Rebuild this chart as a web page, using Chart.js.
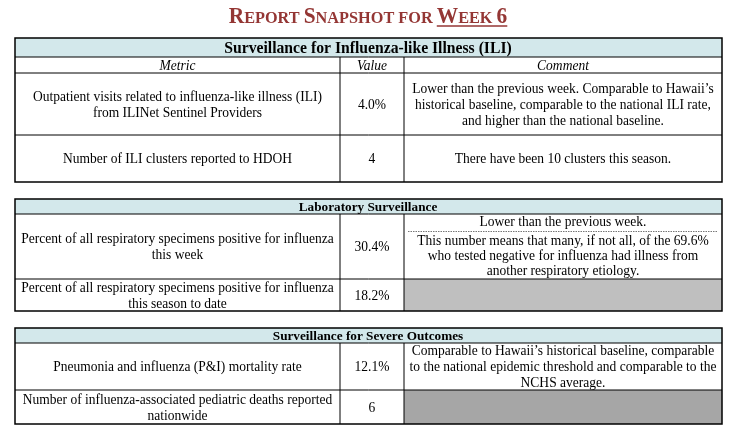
<!DOCTYPE html>
<html>
<head>
<meta charset="utf-8">
<script src="https://cdn.jsdelivr.net/npm/chart.js@4.4.1/dist/chart.umd.min.js"></script>
<style>
html,body{margin:0;padding:0;background:#fff;}
#wrap{width:735px;height:438px;position:relative;}
</style>
</head>
<body>
<div id="wrap"><canvas id="c" width="735" height="438"></canvas></div>
<script>
// ---- data ----
const reportTitle = [["R","big"],["EPORT ","small"],["S","big"],["NAPSHOT ","small"],["FOR ","small"],["W","big","u"],["EEK ","small","u"],["6","big","u"]];
const sectionTitles = ["Surveillance for Influenza-like Illness (ILI)", "Laboratory Surveillance", "Surveillance for Severe Outcomes"];
const columnHeaders = ["Metric", "Value", "Comment"];
const metrics1 = [["Outpatient visits related to influenza-like illness (ILI)", "from ILINet Sentinel Providers"], ["Number of ILI clusters reported to HDOH"]];
const values1 = ["4.0%", "4"];
const comments1 = [["Lower than the previous week. Comparable to Hawaii\u2019s", "historical baseline, comparable to the national ILI rate,", "and higher than the national baseline."], ["There have been 10 clusters this season."]];
const metrics2 = [["Percent of all respiratory specimens positive for influenza", "this week"], ["Percent of all respiratory specimens positive for influenza", "this season to date"]];
const values2 = ["30.4%", "18.2%"];
const comments2 = [[["Lower than the previous week."], ["This number means that many, if not all, of the 69.6%", "who tested negative for influenza had illness from", "another respiratory etiology."]], null];
const metrics3 = [["Pneumonia and influenza (P&I) mortality rate"], ["Number of influenza-associated pediatric deaths reported", "nationwide"]];
const values3 = ["12.1%", "6"];
const comments3 = [["Comparable to Hawaii\u2019s historical baseline, comparable", "to the national epidemic threshold and comparable to the", "NCHS average."], null];

// ---- layout / style (not data) ----
const L = {
  cols: [15, 340, 404, 722],
  t1: [38, 57, 73, 135, 182],
  t2: [199, 214, 279, 311],
  t3: [328, 343, 390, 424],
  band: "#D3E8EB",
  grey2: "#BFBFBF",
  grey3: "#A6A6A6",
  titleColor: "#943634",
  serif: "'Liberation Serif', 'Times New Roman', serif",
  k: 0.965,
  lh: 16
};

const tablePlugin = {
  id: 'tablePlugin',
  afterDraw(chart) {
    const ctx = chart.ctx, X = chart.scales.x, Y = chart.scales.y;
    const px = v => X.getPixelForValue(v), py = v => Y.getPixelForValue(v);
    const F = (sz, w, st) => (st || '') + ' ' + (w || '') + ' ' + sz + 'px ' + L.serif;
    function txt(s, x, y, font, k, color) {
      ctx.save();
      ctx.font = font; ctx.fillStyle = color || '#000';
      ctx.textAlign = 'center'; ctx.textBaseline = 'middle';
      ctx.translate(px(x), py(y)); ctx.scale(k || L.k, 1);
      ctx.fillText(s, 0, 0);
      ctx.restore();
    }
    function lines(arr, cx, cy, font) {
      const n = arr.length;
      arr.forEach((s, i) => txt(s, cx, cy + (i - (n - 1) / 2) * L.lh, font));
    }
    function rect(x0, y0, x1, y1, fill) {
      ctx.fillStyle = fill;
      ctx.fillRect(px(x0), py(y0), px(x1) - px(x0), py(y1) - py(y0));
    }
    function hline(x0, x1, y, w) {
      ctx.save(); ctx.strokeStyle = '#000'; ctx.lineWidth = w || 1;
      ctx.beginPath(); ctx.moveTo(px(x0), py(y)); ctx.lineTo(px(x1), py(y)); ctx.stroke(); ctx.restore();
    }
    function vline(x, y0, y1, w) {
      ctx.save(); ctx.strokeStyle = '#000'; ctx.lineWidth = w || 1;
      ctx.beginPath(); ctx.moveTo(px(x), py(y0)); ctx.lineTo(px(x), py(y1)); ctx.stroke(); ctx.restore();
    }
    const c = L.cols;
    const cc = [(c[0] + c[1]) / 2, (c[1] + c[2]) / 2, (c[2] + c[3]) / 2];
    const body = F(14), ital = F(14, '', 'italic');

    // title (small caps)
    ctx.save();
    const bigF = F(23, 'bold'), smF = F(17.5, 'bold');
    const kt = 0.93;
    let total = 0;
    reportTitle.forEach(seg => { ctx.font = seg[1] === 'big' ? bigF : smF; total += ctx.measureText(seg[0]).width * kt; });
    let x = px(368) - total / 2;
    const ty = py(23);
    let uStart = null, uEnd = null;
    reportTitle.forEach(seg => {
      ctx.font = seg[1] === 'big' ? bigF : smF;
      const w = ctx.measureText(seg[0]).width * kt;
      ctx.save(); ctx.fillStyle = L.titleColor; ctx.textAlign = 'left'; ctx.textBaseline = 'alphabetic';
      ctx.translate(x, ty); ctx.scale(kt, 1); ctx.fillText(seg[0], 0, 0); ctx.restore();
      if (seg[2]) { if (uStart === null) uStart = x; uEnd = x + w; }
      x += w;
    });
    ctx.strokeStyle = L.titleColor; ctx.lineWidth = 1.5;
    ctx.beginPath(); ctx.moveTo(uStart, ty + 3); ctx.lineTo(uEnd, ty + 3); ctx.stroke();
    ctx.restore();

    // ---- table 1 ----
    const t1 = L.t1;
    rect(c[0], t1[0], c[3], t1[1], L.band);
    txt(sectionTitles[0], 368, (t1[0] + t1[1]) / 2 + 1, F(16, 'bold'), 0.98);
    columnHeaders.forEach((h, i) => txt(h, cc[i], (t1[1] + t1[2]) / 2 + 1, ital));
    for (let r = 0; r < 2; r++) {
      const cy = (t1[r + 2] + t1[r + 3]) / 2 + 1;
      lines(metrics1[r], cc[0], cy, body);
      txt(values1[r], cc[1], cy, body);
      lines(comments1[r], cc[2], cy, body);
    }
    for (let i = 1; i < t1.length - 1; i++) hline(c[0], c[3], t1[i], 1);
    vline(c[1], t1[1], t1[4], 1); vline(c[2], t1[1], t1[4], 1);
    ctx.lineWidth = 1.5; ctx.strokeStyle = '#000';
    ctx.strokeRect(px(c[0]), py(t1[0]), px(c[3]) - px(c[0]), py(t1[4]) - py(t1[0]));

    // ---- table 2 ----
    const t2 = L.t2;
    rect(c[0], t2[0], c[3], t2[1], L.band);
    rect(c[2], t2[2], c[3], t2[3], L.grey2);
    txt(sectionTitles[1], 368, (t2[0] + t2[1]) / 2 + 1, F(13.5, 'bold'), 0.98);
    for (let r = 0; r < 2; r++) {
      const cy = (t2[r + 1] + t2[r + 2]) / 2 + 1;
      lines(metrics2[r], cc[0], cy, body);
      txt(values2[r], cc[1], cy, body);
      const cm = comments2[r];
      if (cm) {
        const top = t2[r + 1];
        txt(cm[0][0], cc[2], top + 8.5, body);
        ctx.save(); ctx.strokeStyle = '#777'; ctx.lineWidth = 1; ctx.setLineDash([1.5, 1]);
        ctx.beginPath(); ctx.moveTo(px(c[2] + 4), py(top + 17.5)); ctx.lineTo(px(c[3] - 4), py(top + 17.5)); ctx.stroke(); ctx.restore();
        cm[1].forEach((s, i) => txt(s, cc[2], top + 27.5 + i * 15, body));
      }
    }
    hline(c[0], c[3], t2[1], 1); hline(c[0], c[3], t2[2], 1);
    vline(c[1], t2[1], t2[3], 1); vline(c[2], t2[1], t2[3], 1);
    ctx.lineWidth = 1.5; ctx.strokeStyle = '#000';
    ctx.strokeRect(px(c[0]), py(t2[0]), px(c[3]) - px(c[0]), py(t2[3]) - py(t2[0]));

    // ---- table 3 ----
    const t3 = L.t3;
    rect(c[0], t3[0], c[3], t3[1], L.band);
    rect(c[2], t3[2], c[3], t3[3], L.grey3);
    txt(sectionTitles[2], 368, (t3[0] + t3[1]) / 2 + 1, F(13.5, 'bold'), 0.98);
    for (let r = 0; r < 2; r++) {
      const cy = (t3[r + 1] + t3[r + 2]) / 2 + 1;
      lines(metrics3[r], cc[0], cy, body);
      txt(values3[r], cc[1], cy, body);
      if (comments3[r]) lines(comments3[r], cc[2], cy, body);
    }
    hline(c[0], c[3], t3[1], 1); hline(c[0], c[3], t3[2], 1);
    vline(c[1], t3[1], t3[3], 1); vline(c[2], t3[1], t3[3], 1);
    ctx.lineWidth = 1.5; ctx.strokeStyle = '#000';
    ctx.strokeRect(px(c[0]), py(t3[0]), px(c[3]) - px(c[0]), py(t3[3]) - py(t3[0]));
  }
};

new Chart(document.getElementById('c'), {
  type: 'scatter',
  data: { datasets: [{ data: [], pointRadius: 0 }] },
  options: {
    responsive: false,
    animation: false,
    devicePixelRatio: 1,
    layout: { padding: 0 },
    plugins: { legend: { display: false }, tooltip: { enabled: false }, title: { display: false } },
    scales: {
      x: { type: 'linear', min: 0, max: 735, display: false },
      y: { type: 'linear', min: 0, max: 438, reverse: true, display: false }
    }
  },
  plugins: [tablePlugin]
});
</script>
</body>
</html>
